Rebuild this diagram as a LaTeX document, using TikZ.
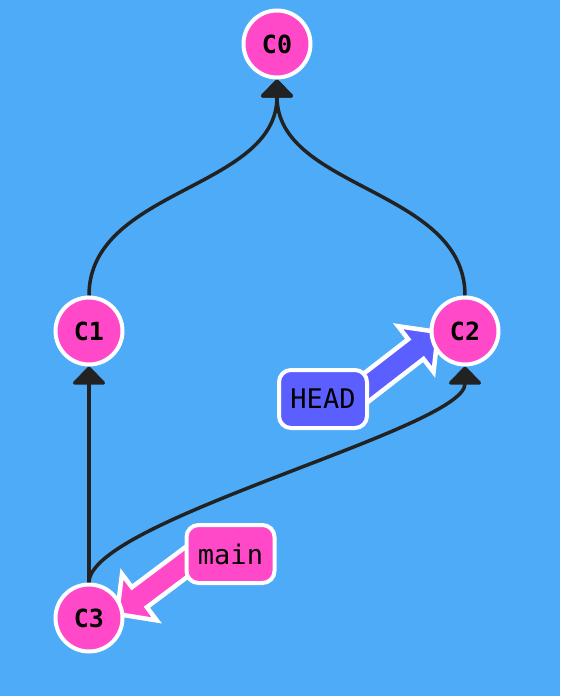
\documentclass[tikz,border=0pt]{standalone}
\usepackage{fontspec}
\setmonofont{DejaVu Sans Mono}
\usetikzlibrary{arrows.meta,calc}
\definecolor{bgBlue}{RGB}{77,171,247}
\definecolor{commitPink}{RGB}{255,73,200}
\definecolor{headBlue}{RGB}{92,95,255}
\definecolor{edgeGray}{RGB}{34,34,34}
\pgfdeclarelayer{backdrop}
\pgfdeclarelayer{edges}
\pgfsetlayers{backdrop,edges,main}
\newcommand\shaftHalf{12.5pt}
\newcommand\barbHalf{29pt}
\newcommand\headLen{28pt}
\newcommand\fatArrow[3]{
	\coordinate (fatBase) at ($(#2)!\headLen!(#1)$);
	\filldraw[fill=#3, draw=white, line width=4.5pt]
	($(#1)!\shaftHalf!90:(#2)$) --
	($(fatBase)!\shaftHalf!90:(#2)$) --
	($(fatBase)!\barbHalf!90:(#2)$) -- (#2) --
	($(fatBase)!\barbHalf!-90:(#2)$) --
	($(fatBase)!\shaftHalf!-90:(#2)$) --
	($(#1)!\shaftHalf!-90:(#2)$) -- cycle;
}
\tikzset{
	commit/.style={circle, fill=commitPink, draw=white, line width=4pt, minimum size=67pt, inner sep=0pt, font=\fontsize{25}{30}\selectfont\ttfamily\bfseries},
	branch/.style={rectangle, rounded corners=12pt, draw=white, line width=4pt, minimum width=88pt, minimum height=58pt, inner sep=0pt, font=\fontsize{27}{32}\selectfont\ttfamily},
	parent/.style={edgeGray, line width=3.5pt, -{Triangle[length=19pt,width=36pt,round]}}
}
\begin{document}
\begin{tikzpicture}[x=1pt, y=-1pt]

	\begin{pgfonlayer}{backdrop}
		\fill[bgBlue] (0,0) rectangle (560,696);
	\end{pgfonlayer}

	\foreach \n/\x/\y in {0/277/44, 1/89/331, 2/465/331, 3/89/618}{
		\node[commit] (c\n) at (\x,\y) {C\n};
	}
	\node[branch, fill=headBlue] (headlbl) at (323,399) {HEAD};
	\node[branch, fill=commitPink] (mainlbl) at (230.5,554) {main};

	\coordinate (headtail) at ($(headlbl)+(27,1)$);
	\coordinate (headtip) at ($(c2)+(-27,1)$);
	\coordinate (maintail) at ($(mainlbl)+(-25.5,-6)$);
	\coordinate (maintip) at ($(c3)+(28,-4)$);

	\begin{pgfonlayer}{edges}
		\draw[parent] (c1.north) .. controls +(0,-107) and +(0,110) .. (c0.south);
		\draw[parent] (c2.north) .. controls +(0,-107) and +(0,110) .. (c0.south);
		\draw[parent] (c3) -- (c1);
		\draw[parent] (c3.north) .. controls +(0,-62) and +(0,62) .. (c2.south);
		\fatArrow{headtail}{headtip}{headBlue}
		\fatArrow{maintail}{maintip}{commitPink}
	\end{pgfonlayer}
\end{tikzpicture}
\end{document}
